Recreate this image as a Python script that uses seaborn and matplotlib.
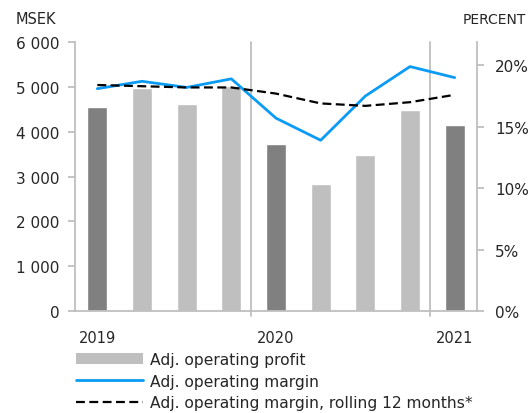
import matplotlib
matplotlib.use('Agg')
import matplotlib.pyplot as plt
from matplotlib.lines import Line2D
from matplotlib.patches import Patch
from matplotlib.ticker import FuncFormatter, FixedLocator
import pandas as pd
import seaborn as sns

# Quarterly data, Q1 2019 - Q1 2021
quarters = ['Q1 19', 'Q2 19', 'Q3 19', 'Q4 19', 'Q1 20', 'Q2 20', 'Q3 20', 'Q4 20', 'Q1 21']
profit = [4560, 4970, 4610, 5010, 3720, 2840, 3490, 4490, 4150]
margin = [18.1, 18.7, 18.2, 18.9, 15.7, 13.9, 17.5, 19.9, 19.0]
margin_r12 = [18.4, 18.3, 18.2, 18.2, 17.7, 16.9, 16.7, 17.0, 17.6]
year_labels = ['2019', '2020', '2021']

DARK = '#808080'
LIGHT = '#BFBFBF'
BLUE = '#0A9BF5'
SPINE = '#BFBFBF'

sns.set_style('white')
plt.rcParams['font.family'] = ['DejaVu Sans']
plt.rcParams['font.size'] = 11

df = pd.DataFrame({'quarter': quarters, 'profit': profit,
                   'margin': margin, 'margin_r12': margin_r12})
df['pos'] = range(len(df))
bar_colors = {q: (DARK if q.startswith('Q1') else LIGHT) for q in quarters}

fig = plt.figure(figsize=(5.29, 4.14), dpi=100)
ax = fig.add_axes([75 / 529, 1 - 312 / 414, (477 - 75) / 529, (312 - 43) / 414])

# Bars
sns.barplot(data=df, x='quarter', y='profit', hue='quarter', palette=bar_colors,
            width=0.45, legend=False, ax=ax, saturation=1)
ax.set_ylim(0, 6000)
ax.set_xlim(-0.5, len(quarters) - 0.5)
ax.yaxis.set_major_locator(FixedLocator([0, 1000, 2000, 3000, 4000, 5000, 6000]))
ax.yaxis.set_major_formatter(FuncFormatter(lambda v, p: f'{int(v):,}'.replace(',', ' ')))
ax.set_xlabel('')
ax.set_ylabel('')

# year separators
for xv in [3.45, 7.45]:
    ax.axvline(xv, ymin=-0.02, ymax=1, color=SPINE, lw=1.3, clip_on=False, zorder=1)

# Lines on secondary axis
ax2 = ax.twinx()
sns.lineplot(data=df, x='pos', y='margin', color=BLUE, lw=2, ax=ax2)
sns.lineplot(data=df, x='pos', y='margin_r12', color='black', lw=1.6, ax=ax2)
ax2.lines[-1].set_dashes((4, 2))
ax2.set_ylim(0, 21.9)
ax2.yaxis.set_major_locator(FixedLocator([0, 5, 10, 15, 20]))
ax2.yaxis.set_major_formatter(FuncFormatter(lambda v, p: f'{int(v)}%'))
ax2.set_xlim(-0.5, len(quarters) - 0.5)
ax2.set_xlabel('')
ax2.set_ylabel('')

# x ticks: year labels under Q1 bars, minor ticks between categories
ax.set_xticks([0, 4, 8])
ax.set_xticklabels(year_labels)
ax.tick_params(axis='x', which='major', length=0, pad=14, labelsize=10.5)
ax.set_xticks([i - 0.5 for i in range(len(quarters) + 1)], minor=True)
ax.tick_params(axis='x', which='minor', length=5, color=SPINE, width=1.3)
ax.tick_params(axis='y', length=5, color=SPINE, width=1.3, pad=6, labelsize=11)
ax2.tick_params(axis='y', length=5, color=SPINE, width=1.3, pad=8, labelsize=11)

for a in (ax, ax2):
    a.spines['top'].set_visible(False)
    for side in ('left', 'right', 'bottom'):
        a.spines[side].set_color(SPINE)
        a.spines[side].set_linewidth(1.3)
ax.spines['right'].set_visible(False)
ax2.spines['left'].set_visible(False)
ax2.spines['bottom'].set_visible(False)

fig.text(16 / 529, 1 - 20 / 414, 'MSEK', ha='left', va='center', fontsize=10.5)
fig.text(463 / 529, 1 - 20 / 414, 'PERCENT', ha='left', va='center', fontsize=10)

handles = [
    Patch(facecolor=LIGHT, edgecolor='none'),
    Line2D([0], [0], color=BLUE, lw=2),
    Line2D([0], [0], color='black', lw=1.6, dashes=(4, 2)),
]
labels = ['Adj. operating profit', 'Adj. operating margin',
          'Adj. operating margin, rolling 12 months*']
fig.legend(handles, labels, loc='upper left', bbox_to_anchor=(76 / 529, 1 - 353 / 414),
           frameon=False, handlelength=4.3, handleheight=0.75, handletextpad=0.45,
           labelspacing=0.42, borderaxespad=0, borderpad=0, fontsize=11.2)

fig.savefig('out.png', dpi=100)
